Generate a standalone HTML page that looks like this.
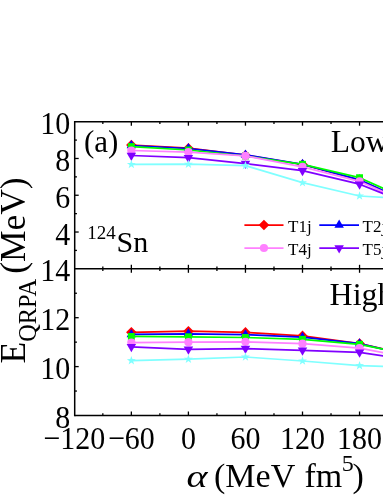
<!DOCTYPE html>
<html><head><meta charset="utf-8"><title>chart</title>
<style>
html,body{margin:0;padding:0;background:#fff;}
body{width:383px;height:496px;overflow:hidden;}
svg{display:block;will-change:transform;}
text{font-family:"Liberation Serif",serif;fill:#000;}
</style></head><body>
<svg width="383" height="496" viewBox="0 0 383 496">
<rect width="383" height="496" fill="#fff"/>

<polyline points="131.35,145.00 188.40,148.20 245.45,155.20 302.50,164.50 359.55,180.00 416.60,206.30" fill="none" stroke="#ff0000" stroke-width="1.75" stroke-linejoin="round"/>
<path d="M131.35 139.70L136.65 145.00L131.35 150.30L126.05 145.00Z" fill="#ff0000"/>
<path d="M188.40 142.90L193.70 148.20L188.40 153.50L183.10 148.20Z" fill="#ff0000"/>
<path d="M245.45 149.90L250.75 155.20L245.45 160.50L240.15 155.20Z" fill="#ff0000"/>
<path d="M302.50 159.20L307.80 164.50L302.50 169.80L297.20 164.50Z" fill="#ff0000"/>
<path d="M359.55 174.70L364.85 180.00L359.55 185.30L354.25 180.00Z" fill="#ff0000"/>
<path d="M416.60 201.00L421.90 206.30L416.60 211.60L411.30 206.30Z" fill="#ff0000"/>
<polyline points="131.35,145.50 188.40,148.50 245.45,154.90 302.50,164.30 359.55,179.80 416.60,205.90" fill="none" stroke="#0000ff" stroke-width="1.75" stroke-linejoin="round"/>
<path d="M131.35 140.03L136.10 148.23L126.60 148.23Z" fill="#0000ff"/>
<path d="M188.40 143.03L193.15 151.23L183.65 151.23Z" fill="#0000ff"/>
<path d="M245.45 149.43L250.20 157.63L240.70 157.63Z" fill="#0000ff"/>
<path d="M302.50 158.83L307.25 167.03L297.75 167.03Z" fill="#0000ff"/>
<path d="M359.55 174.33L364.30 182.53L354.80 182.53Z" fill="#0000ff"/>
<path d="M416.60 200.43L421.35 208.63L411.85 208.63Z" fill="#0000ff"/>
<polyline points="131.35,146.60 188.40,150.00 245.45,156.00 302.50,164.30 359.55,177.70 416.60,203.20" fill="none" stroke="#00ff00" stroke-width="1.75" stroke-linejoin="round"/>
<rect x="127.90" y="143.15" width="6.9" height="6.9" fill="#00ff00"/>
<rect x="184.95" y="146.55" width="6.9" height="6.9" fill="#00ff00"/>
<rect x="242.00" y="152.55" width="6.9" height="6.9" fill="#00ff00"/>
<rect x="299.05" y="160.85" width="6.9" height="6.9" fill="#00ff00"/>
<rect x="356.10" y="174.25" width="6.9" height="6.9" fill="#00ff00"/>
<rect x="413.15" y="199.75" width="6.9" height="6.9" fill="#00ff00"/>
<polyline points="131.35,150.50 188.40,152.20 245.45,155.90 302.50,166.90 359.55,181.30 416.60,206.60" fill="none" stroke="#ff80ff" stroke-width="1.75" stroke-linejoin="round"/>
<circle cx="131.35" cy="150.50" r="4.1" fill="#ff80ff"/>
<circle cx="188.40" cy="152.20" r="4.1" fill="#ff80ff"/>
<circle cx="245.45" cy="155.90" r="4.1" fill="#ff80ff"/>
<circle cx="302.50" cy="166.90" r="4.1" fill="#ff80ff"/>
<circle cx="359.55" cy="181.30" r="4.1" fill="#ff80ff"/>
<circle cx="416.60" cy="206.60" r="4.1" fill="#ff80ff"/>
<polyline points="131.35,155.50 188.40,157.70 245.45,163.60 302.50,170.70 359.55,184.20 416.60,206.80" fill="none" stroke="#8000ff" stroke-width="1.75" stroke-linejoin="round"/>
<path d="M131.35 160.97L136.10 152.77L126.60 152.77Z" fill="#8000ff"/>
<path d="M188.40 163.17L193.15 154.97L183.65 154.97Z" fill="#8000ff"/>
<path d="M245.45 169.07L250.20 160.87L240.70 160.87Z" fill="#8000ff"/>
<path d="M302.50 176.17L307.25 167.97L297.75 167.97Z" fill="#8000ff"/>
<path d="M359.55 189.67L364.30 181.47L354.80 181.47Z" fill="#8000ff"/>
<path d="M416.60 212.27L421.35 204.07L411.85 204.07Z" fill="#8000ff"/>
<polyline points="131.35,164.40 188.40,164.20 245.45,165.60 302.50,182.70 359.55,196.00 416.60,199.40" fill="none" stroke="#80ffff" stroke-width="1.75" stroke-linejoin="round"/>
<path d="M131.35 159.70L132.44 162.90L135.82 162.95L133.11 164.97L134.11 168.20L131.35 166.25L128.59 168.20L129.59 164.97L126.88 162.95L130.26 162.90Z" fill="#80ffff"/>
<path d="M188.40 159.50L189.49 162.70L192.87 162.75L190.16 164.77L191.16 168.00L188.40 166.05L185.64 168.00L186.64 164.77L183.93 162.75L187.31 162.70Z" fill="#80ffff"/>
<path d="M245.45 160.90L246.54 164.10L249.92 164.15L247.21 166.17L248.21 169.40L245.45 167.45L242.69 169.40L243.69 166.17L240.98 164.15L244.36 164.10Z" fill="#80ffff"/>
<path d="M302.50 178.00L303.59 181.20L306.97 181.25L304.26 183.27L305.26 186.50L302.50 184.55L299.74 186.50L300.74 183.27L298.03 181.25L301.41 181.20Z" fill="#80ffff"/>
<path d="M359.55 191.30L360.64 194.50L364.02 194.55L361.31 196.57L362.31 199.80L359.55 197.85L356.79 199.80L357.79 196.57L355.08 194.55L358.46 194.50Z" fill="#80ffff"/>
<path d="M416.60 194.70L417.69 197.90L421.07 197.95L418.36 199.97L419.36 203.20L416.60 201.25L413.84 203.20L414.84 199.97L412.13 197.95L415.51 197.90Z" fill="#80ffff"/>
<polyline points="131.35,332.30 188.40,331.20 245.45,332.40 302.50,335.90 359.55,343.50 416.60,356.70" fill="none" stroke="#ff0000" stroke-width="1.75" stroke-linejoin="round"/>
<path d="M131.35 327.00L136.65 332.30L131.35 337.60L126.05 332.30Z" fill="#ff0000"/>
<path d="M188.40 325.90L193.70 331.20L188.40 336.50L183.10 331.20Z" fill="#ff0000"/>
<path d="M245.45 327.10L250.75 332.40L245.45 337.70L240.15 332.40Z" fill="#ff0000"/>
<path d="M302.50 330.60L307.80 335.90L302.50 341.20L297.20 335.90Z" fill="#ff0000"/>
<path d="M359.55 338.20L364.85 343.50L359.55 348.80L354.25 343.50Z" fill="#ff0000"/>
<path d="M416.60 351.40L421.90 356.70L416.60 362.00L411.30 356.70Z" fill="#ff0000"/>
<polyline points="131.35,334.40 188.40,333.80 245.45,334.60 302.50,337.20 359.55,343.70 416.60,356.70" fill="none" stroke="#0000ff" stroke-width="1.75" stroke-linejoin="round"/>
<path d="M131.35 328.93L136.10 337.13L126.60 337.13Z" fill="#0000ff"/>
<path d="M188.40 328.33L193.15 336.53L183.65 336.53Z" fill="#0000ff"/>
<path d="M245.45 329.13L250.20 337.33L240.70 337.33Z" fill="#0000ff"/>
<path d="M302.50 331.73L307.25 339.93L297.75 339.93Z" fill="#0000ff"/>
<path d="M359.55 338.23L364.30 346.43L354.80 346.43Z" fill="#0000ff"/>
<path d="M416.60 351.23L421.35 359.43L411.85 359.43Z" fill="#0000ff"/>
<polyline points="131.35,336.45 188.40,336.80 245.45,337.50 302.50,339.30 359.55,344.30 416.60,356.00" fill="none" stroke="#00ff00" stroke-width="1.75" stroke-linejoin="round"/>
<rect x="127.90" y="333.00" width="6.9" height="6.9" fill="#00ff00"/>
<rect x="184.95" y="333.35" width="6.9" height="6.9" fill="#00ff00"/>
<rect x="242.00" y="334.05" width="6.9" height="6.9" fill="#00ff00"/>
<rect x="299.05" y="335.85" width="6.9" height="6.9" fill="#00ff00"/>
<rect x="356.10" y="340.85" width="6.9" height="6.9" fill="#00ff00"/>
<rect x="413.15" y="352.55" width="6.9" height="6.9" fill="#00ff00"/>
<polyline points="131.35,342.50 188.40,342.20 245.45,341.80 302.50,343.70 359.55,348.20 416.60,358.90" fill="none" stroke="#ff80ff" stroke-width="1.75" stroke-linejoin="round"/>
<circle cx="131.35" cy="342.50" r="4.1" fill="#ff80ff"/>
<circle cx="188.40" cy="342.20" r="4.1" fill="#ff80ff"/>
<circle cx="245.45" cy="341.80" r="4.1" fill="#ff80ff"/>
<circle cx="302.50" cy="343.70" r="4.1" fill="#ff80ff"/>
<circle cx="359.55" cy="348.20" r="4.1" fill="#ff80ff"/>
<circle cx="416.60" cy="358.90" r="4.1" fill="#ff80ff"/>
<polyline points="131.35,346.80 188.40,349.30 245.45,348.60 302.50,350.30 359.55,352.30 416.60,360.80" fill="none" stroke="#8000ff" stroke-width="1.75" stroke-linejoin="round"/>
<path d="M131.35 352.27L136.10 344.07L126.60 344.07Z" fill="#8000ff"/>
<path d="M188.40 354.77L193.15 346.57L183.65 346.57Z" fill="#8000ff"/>
<path d="M245.45 354.07L250.20 345.87L240.70 345.87Z" fill="#8000ff"/>
<path d="M302.50 355.77L307.25 347.57L297.75 347.57Z" fill="#8000ff"/>
<path d="M359.55 357.77L364.30 349.57L354.80 349.57Z" fill="#8000ff"/>
<path d="M416.60 366.27L421.35 358.07L411.85 358.07Z" fill="#8000ff"/>
<polyline points="131.35,360.60 188.40,359.20 245.45,357.00 302.50,361.00 359.55,365.60 416.60,367.50" fill="none" stroke="#80ffff" stroke-width="1.75" stroke-linejoin="round"/>
<path d="M131.35 355.90L132.44 359.10L135.82 359.15L133.11 361.17L134.11 364.40L131.35 362.45L128.59 364.40L129.59 361.17L126.88 359.15L130.26 359.10Z" fill="#80ffff"/>
<path d="M188.40 354.50L189.49 357.70L192.87 357.75L190.16 359.77L191.16 363.00L188.40 361.05L185.64 363.00L186.64 359.77L183.93 357.75L187.31 357.70Z" fill="#80ffff"/>
<path d="M245.45 352.30L246.54 355.50L249.92 355.55L247.21 357.57L248.21 360.80L245.45 358.85L242.69 360.80L243.69 357.57L240.98 355.55L244.36 355.50Z" fill="#80ffff"/>
<path d="M302.50 356.30L303.59 359.50L306.97 359.55L304.26 361.57L305.26 364.80L302.50 362.85L299.74 364.80L300.74 361.57L298.03 359.55L301.41 359.50Z" fill="#80ffff"/>
<path d="M359.55 360.90L360.64 364.10L364.02 364.15L361.31 366.17L362.31 369.40L359.55 367.45L356.79 369.40L357.79 366.17L355.08 364.15L358.46 364.10Z" fill="#80ffff"/>
<path d="M416.60 362.80L417.69 366.00L421.07 366.05L418.36 368.07L419.36 371.30L416.60 369.35L413.84 371.30L414.84 368.07L412.13 366.05L415.51 366.00Z" fill="#80ffff"/>
<g stroke="#000" stroke-width="1.5" fill="none" stroke-linecap="butt">
<line x1="74.70" y1="120.95" x2="74.70" y2="416.25"/>
<line x1="74.70" y1="121.70" x2="383" y2="121.70"/>
<line x1="74.70" y1="268.80" x2="383" y2="268.80"/>
<line x1="74.70" y1="415.50" x2="383" y2="415.50"/>
</g>
<g stroke="#000" stroke-width="1.3" fill="none">
<line x1="102.83" y1="121.70" x2="102.83" y2="123.95"/>
<line x1="102.83" y1="266.55" x2="102.83" y2="271.05"/>
<line x1="102.83" y1="413.25" x2="102.83" y2="415.50"/>
<line x1="131.35" y1="121.70" x2="131.35" y2="125.70"/>
<line x1="131.35" y1="264.80" x2="131.35" y2="272.80"/>
<line x1="131.35" y1="411.50" x2="131.35" y2="415.50"/>
<line x1="159.88" y1="121.70" x2="159.88" y2="123.95"/>
<line x1="159.88" y1="266.55" x2="159.88" y2="271.05"/>
<line x1="159.88" y1="413.25" x2="159.88" y2="415.50"/>
<line x1="188.40" y1="121.70" x2="188.40" y2="125.70"/>
<line x1="188.40" y1="264.80" x2="188.40" y2="272.80"/>
<line x1="188.40" y1="411.50" x2="188.40" y2="415.50"/>
<line x1="216.93" y1="121.70" x2="216.93" y2="123.95"/>
<line x1="216.93" y1="266.55" x2="216.93" y2="271.05"/>
<line x1="216.93" y1="413.25" x2="216.93" y2="415.50"/>
<line x1="245.45" y1="121.70" x2="245.45" y2="125.70"/>
<line x1="245.45" y1="264.80" x2="245.45" y2="272.80"/>
<line x1="245.45" y1="411.50" x2="245.45" y2="415.50"/>
<line x1="273.98" y1="121.70" x2="273.98" y2="123.95"/>
<line x1="273.98" y1="266.55" x2="273.98" y2="271.05"/>
<line x1="273.98" y1="413.25" x2="273.98" y2="415.50"/>
<line x1="302.50" y1="121.70" x2="302.50" y2="125.70"/>
<line x1="302.50" y1="264.80" x2="302.50" y2="272.80"/>
<line x1="302.50" y1="411.50" x2="302.50" y2="415.50"/>
<line x1="331.02" y1="121.70" x2="331.02" y2="123.95"/>
<line x1="331.02" y1="266.55" x2="331.02" y2="271.05"/>
<line x1="331.02" y1="413.25" x2="331.02" y2="415.50"/>
<line x1="359.55" y1="121.70" x2="359.55" y2="125.70"/>
<line x1="359.55" y1="264.80" x2="359.55" y2="272.80"/>
<line x1="359.55" y1="411.50" x2="359.55" y2="415.50"/>
<line x1="388.07" y1="121.70" x2="388.07" y2="123.95"/>
<line x1="388.07" y1="266.55" x2="388.07" y2="271.05"/>
<line x1="388.07" y1="413.25" x2="388.07" y2="415.50"/>
<line x1="416.60" y1="121.70" x2="416.60" y2="125.70"/>
<line x1="416.60" y1="264.80" x2="416.60" y2="272.80"/>
<line x1="416.60" y1="411.50" x2="416.60" y2="415.50"/>
<line x1="445.12" y1="121.70" x2="445.12" y2="123.95"/>
<line x1="445.12" y1="266.55" x2="445.12" y2="271.05"/>
<line x1="445.12" y1="413.25" x2="445.12" y2="415.50"/>
<line x1="74.70" y1="250.41" x2="76.95" y2="250.41"/>
<line x1="74.70" y1="232.03" x2="78.70" y2="232.03"/>
<line x1="74.70" y1="213.64" x2="76.95" y2="213.64"/>
<line x1="74.70" y1="195.25" x2="78.70" y2="195.25"/>
<line x1="74.70" y1="176.86" x2="76.95" y2="176.86"/>
<line x1="74.70" y1="158.48" x2="78.70" y2="158.48"/>
<line x1="74.70" y1="140.09" x2="76.95" y2="140.09"/>
<line x1="74.70" y1="391.05" x2="76.95" y2="391.05"/>
<line x1="74.70" y1="366.60" x2="78.70" y2="366.60"/>
<line x1="74.70" y1="342.15" x2="76.95" y2="342.15"/>
<line x1="74.70" y1="317.70" x2="78.70" y2="317.70"/>
<line x1="74.70" y1="293.25" x2="76.95" y2="293.25"/>
</g>
<text transform="translate(70.30,134.30) scale(1,1.085)" font-size="30" text-anchor="end">10</text>
<text transform="translate(70.30,171.08) scale(1,1.085)" font-size="30" text-anchor="end">8</text>
<text transform="translate(70.30,207.85) scale(1,1.085)" font-size="30" text-anchor="end">6</text>
<text transform="translate(70.30,244.63) scale(1,1.085)" font-size="30" text-anchor="end">4</text>
<text transform="translate(70.30,281.40) scale(1,1.085)" font-size="30" text-anchor="end">14</text>
<text transform="translate(70.30,330.30) scale(1,1.085)" font-size="30" text-anchor="end">12</text>
<text transform="translate(70.30,379.20) scale(1,1.085)" font-size="30" text-anchor="end">10</text>
<text transform="translate(70.30,428.10) scale(1,1.085)" font-size="30" text-anchor="end">8</text>
<text transform="translate(74.30,449.20) scale(1,1.085)" font-size="30" text-anchor="middle">−120</text>
<text transform="translate(131.35,449.20) scale(1,1.085)" font-size="30" text-anchor="middle">−60</text>
<text transform="translate(188.40,449.20) scale(1,1.085)" font-size="30" text-anchor="middle">0</text>
<text transform="translate(245.45,449.20) scale(1,1.085)" font-size="30" text-anchor="middle">60</text>
<text transform="translate(302.50,449.20) scale(1,1.085)" font-size="30" text-anchor="middle">120</text>
<text transform="translate(359.55,449.20) scale(1,1.085)" font-size="30" text-anchor="middle">180</text>
<text transform="translate(416.60,449.20) scale(1,1.085)" font-size="30" text-anchor="middle">240</text>
<text x="84.0" y="151.8" font-size="31">(a)</text>
<text x="330.8" y="152.1" font-size="31.5">Low</text>
<text x="329.6" y="304.7" font-size="32">High</text>
<text x="87.3" y="238.6" font-size="19">124</text>
<text x="116.5" y="252.4" font-size="30">Sn</text>
<line x1="244.4" y1="225.0" x2="283.5" y2="225.0" stroke="#ff0000" stroke-width="1.75"/>
<path d="M263.95 219.70L269.25 225.00L263.95 230.30L258.65 225.00Z" fill="#ff0000"/>
<text x="288.0" y="231.9" font-size="17">T1j</text>
<line x1="244.4" y1="248.0" x2="283.5" y2="248.0" stroke="#ff80ff" stroke-width="1.75"/>
<circle cx="263.95" cy="248.00" r="4.1" fill="#ff80ff"/>
<text x="288.0" y="254.9" font-size="17">T4j</text>
<line x1="319.3" y1="225.0" x2="359.0" y2="225.0" stroke="#0000ff" stroke-width="1.75"/>
<path d="M339.15 219.53L343.90 227.73L334.40 227.73Z" fill="#0000ff"/>
<text x="362.6" y="231.9" font-size="17">T2j</text>
<line x1="319.3" y1="248.0" x2="359.0" y2="248.0" stroke="#8000ff" stroke-width="1.75"/>
<path d="M339.15 253.47L343.90 245.27L334.40 245.27Z" fill="#8000ff"/>
<text x="362.6" y="254.9" font-size="17">T5j</text>
<text transform="translate(186.5,486.5) scale(1.25,1)" font-size="32" font-style="italic">α</text>
<text x="214.0" y="486.5" font-size="34">(MeV</text>
<text x="304.5" y="486.5" font-size="34">fm</text>
<text x="341.8" y="470.8" font-size="24">5</text>
<text x="352.6" y="486.5" font-size="34">)</text>
<g transform="translate(25.3,363.4) rotate(-90)">
<text x="0" y="0" font-size="35.5">E</text>
<text x="21.6" y="10.9" font-size="24.4">QRPA</text>
<text x="89.6" y="0" font-size="35.5" textLength="96.3" lengthAdjust="spacingAndGlyphs">(MeV)</text>
</g>
</svg></body></html>
